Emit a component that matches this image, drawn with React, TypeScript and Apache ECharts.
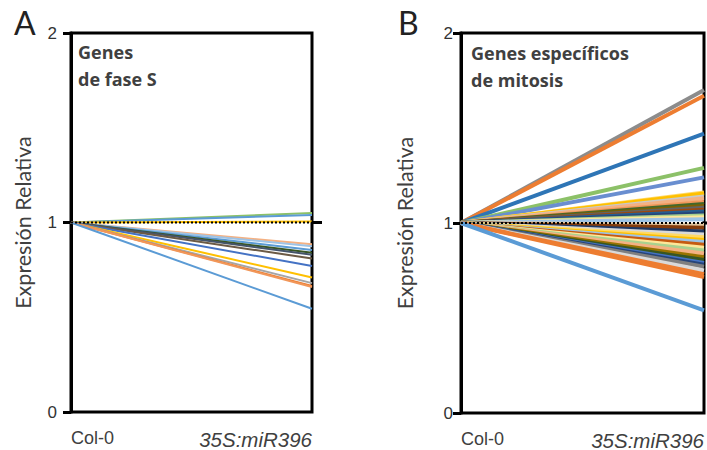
import React, { useEffect, useRef } from "react";
import * as echarts from "echarts";

// Data
const categories = ["Col-0", "35S:miR396"];
const colValue = 1; // Col-0 normalised expression
const yTicks = [0, 1, 2];

// Panel A: S-phase genes, relative expression in 35S:miR396
const sPhaseValues = [1.05, 1.04, 1.005, 0.885, 0.875, 0.855, 0.84, 0.83, 0.81, 0.77, 0.71, 0.68, 0.665, 0.66, 0.545];
// Panel B: mitosis-specific genes
const mitosisValues = [
  1.7, 1.67, 1.47, 1.29, 1.24, 1.16, 1.155, 1.14, 1.13, 1.11, 1.1, 1.09, 1.08, 1.07, 1.06, 1.05, 1.04, 1.03, 1.02,
  0.99, 0.975, 0.955, 0.94, 0.925, 0.91, 0.9, 0.885, 0.87, 0.855, 0.84, 0.82, 0.805, 0.79, 0.78, 0.77, 0.75, 0.73, 0.715, 0.54,
];

const paletteA = ["#8CC168", "#5B9BD5", "#FFC000", "#F4B183", "#9DC3E6", "#5B9BD5", "#375623", "#44546A", "#6B5A45", "#4472C4", "#FFC000", "#A5A5A5", "#ED7D31", "#F1975A", "#5B9BD5"];
const paletteB = [
  "#8C8C8C", "#ED7D31", "#2E75B6", "#8CC168", "#698ED0", "#FFD966", "#FFC000", "#C9C9C9", "#F4B183", "#F1975A", "#43682B", "#7F6000", "#636363", "#9E480E", "#255E91", "#264478", "#A9D18E", "#FFE699", "#9DC3E6",
  "#E2C69F", "#843C0C", "#1F3864", "#D9D9D9", "#FFD966", "#FFC000", "#9DC3E6", "#C55A11", "#FFE699", "#A9D18E", "#F4B183", "#997300", "#375623", "#4472C4", "#264478", "#7F7F7F", "#D9D9D9", "#ED7D31", "#ED7D31", "#5B9BD5",
];

const TXT = "#404040";

export default function App() {
  const ref = useRef<HTMLDivElement>(null);
  useEffect(() => {
    if (!ref.current) return;
    const chart = echarts.init(ref.current, undefined, { renderer: "svg" });

    const mkX = (gridIndex: number) => ({
      type: "category",
      gridIndex,
      data: categories,
      boundaryGap: false,
      axisLine: { show: false },
      axisTick: { show: false },
      splitLine: { show: false },
      axisLabel: {
        margin: 17,
        fontFamily: "Liberation Sans",
        fontSize: 18,
        color: TXT,
        alignMinLabel: "left",
        alignMaxLabel: "right",
        formatter: (v: string) => (v === categories[1] ? "{i|" + v + "}" : v),
        rich: { i: { fontStyle: "italic", fontSize: 20.5, fontFamily: "Liberation Sans", color: TXT } },
      },
    });
    const mkY = (gridIndex: number, labelMargin: number, nameGap: number) => ({
      type: "value",
      gridIndex,
      min: yTicks[0],
      max: yTicks[yTicks.length - 1],
      interval: 1,
      name: "Expresión Relativa",
      nameLocation: "middle",
      nameRotate: 90,
      nameGap,
      nameTextStyle: { fontFamily: "Lato", fontSize: 21.5, color: TXT },
      axisLine: { show: true, lineStyle: { color: "#000", width: 3 } },
      axisTick: { show: true, length: 8, lineStyle: { color: "#000", width: 3 } },
      axisLabel: { margin: labelMargin, fontFamily: "Liberation Sans", fontSize: 17, color: "#333" },
      splitLine: { show: false },
    });

    const linesFor = (vals: number[], colors: string[], xi: number, yi: number, width: number) =>
      vals.map((v, i) => ({
        type: "line",
        xAxisIndex: xi,
        yAxisIndex: yi,
        data: [colValue, v],
        symbol: "none",
        silent: true,
        lineStyle: { color: colors[i % colors.length], width },
      }));
    const dotted = (xi: number, yi: number) => ({
      type: "line",
      xAxisIndex: xi,
      yAxisIndex: yi,
      data: [colValue, colValue],
      symbol: "none",
      silent: true,
      z: 5,
      lineStyle: { color: "#000", width: 1.8, type: [2, 2] },
    });

    const titleStyle = { fontFamily: "Open Sans", fontWeight: "bold", fontSize: 18, lineHeight: 27, color: TXT };

    chart.setOption({
      animation: false,
      backgroundColor: "#fff",
      grid: [
        { left: 71, top: 33, width: 241, height: 379, show: true, borderColor: "#000", borderWidth: 3, backgroundColor: "transparent" },
        { left: 461, top: 33, width: 244, height: 380, show: true, borderColor: "#000", borderWidth: 3, backgroundColor: "transparent" },
      ],
      title: [
        { text: "Genes\nde fase S", left: 78, top: 38, padding: 0, textStyle: titleStyle },
        { text: "Genes específicos\nde mitosis", left: 471, top: 39, padding: 0, textStyle: titleStyle },
      ],
      xAxis: [mkX(0), mkX(1)],
      yAxis: [mkY(0, 14, 37), mkY(1, 8, 45)],
      series: [
        ...linesFor(sPhaseValues, paletteA, 0, 0, 2),
        dotted(0, 0),
        ...linesFor(mitosisValues, paletteB, 1, 1, 4),
        dotted(1, 1),
      ],
    });

    // Right-side tick at the reference level (1), positioned through the axes
    const pA = chart.convertToPixel({ xAxisIndex: 0, yAxisIndex: 0 }, [1, colValue]) as number[];
    const pB = chart.convertToPixel({ xAxisIndex: 1, yAxisIndex: 1 }, [1, colValue]) as number[];
    chart.setOption({
      graphic: [
        { type: "text", left: 14, top: 6, style: { text: "A", fontFamily: "Lato", fontSize: 32, fill: "#222" } },
        { type: "text", left: 398, top: 6, style: { text: "B", fontFamily: "Lato", fontSize: 32, fill: "#222" } },
        { type: "line", shape: { x1: pA[0], y1: pA[1], x2: pA[0] + 10, y2: pA[1] }, style: { stroke: "#000", lineWidth: 3 }, z: 10 },
        { type: "line", shape: { x1: pB[0], y1: pB[1], x2: pB[0] + 10, y2: pB[1] }, style: { stroke: "#000", lineWidth: 3 }, z: 10 },
      ],
    });
    return () => chart.dispose();
  }, []);
  return <div ref={ref} style={{ width: 707, height: 450, position: "absolute", left: 0, top: 0 }} />;
}
